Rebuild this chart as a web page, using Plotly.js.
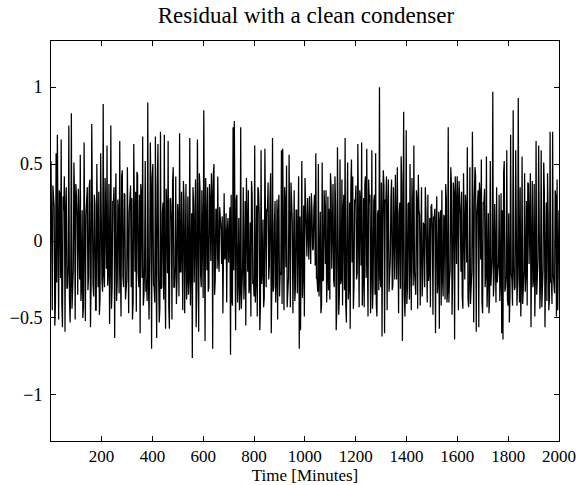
<!DOCTYPE html>
<html>
<head>
<meta charset="utf-8">
<script src="https://cdn.plot.ly/plotly-3.0.1.min.js"></script>
<style>html,body{margin:0;padding:0;background:#fff;}#chart{width:586px;height:485px;}</style>
</head>
<body>
<div id="chart"></div>
<script>
// Residual (minutes 1 .. 2000).
// residualMain: samples about every 5 minutes; residualBetween: the samples read between them.
const startMinute = 1;
const endMinute = 2000;
const residualMain = [
  0.52,-0.45,0.25,-0.55,0.57,0.69,-0.51,0.30,0.66,-0.56,
  0.20,-0.59,0.35,-0.30,0.75,-0.53,0.83,-0.25,0.51,-0.51,
  0.30,-0.35,0.15,0.56,-0.30,-0.50,0.64,-0.52,0.28,-0.32,
  0.35,-0.56,0.76,-0.28,0.30,-0.45,0.50,-0.30,-0.48,0.57,
  -0.25,0.89,-0.30,0.20,0.62,-0.20,-0.54,0.75,-0.30,0.25,
  -0.63,0.44,-0.28,0.18,0.65,-0.49,0.46,-0.30,0.30,-0.25,
  0.48,-0.47,0.25,-0.30,-0.51,0.63,-0.20,-0.46,0.43,-0.30,
  -0.60,0.30,0.68,-0.35,0.52,-0.25,0.90,-0.51,0.64,-0.70,
  0.50,-0.30,0.68,-0.63,0.63,-0.53,0.71,-0.30,0.25,0.69,
  -0.57,0.20,0.65,-0.57,0.28,-0.51,0.48,-0.30,0.42,-0.25,
  0.15,0.70,-0.20,-0.36,0.39,-0.47,0.37,-0.25,-0.35,0.67,
  -0.20,-0.76,0.25,0.35,-0.56,0.66,-0.59,0.35,-0.30,-0.30,
  0.85,-0.65,0.20,0.35,-0.30,0.25,0.44,-0.70,0.50,-0.25,
  0.20,0.42,-0.20,0.15,-0.15,-0.47,0.31,-0.10,-0.40,0.15,
  0.02,-0.74,-0.38,0.74,0.78,-0.58,0.30,-0.25,-0.45,0.74,
  -0.30,0.35,-0.25,-0.55,0.20,0.33,-0.30,-0.49,0.30,-0.25,
  0.62,-0.25,-0.49,0.33,-0.58,0.59,-0.20,-0.43,0.60,-0.30,
  0.19,-0.25,0.28,-0.60,0.67,-0.30,0.26,-0.25,-0.51,0.30,
  -0.20,0.59,0.60,-0.45,0.25,0.49,-0.30,0.56,-0.43,0.25,
  -0.47,0.33,-0.30,0.20,0.33,-0.70,-0.58,0.52,-0.20,-0.49,
  0.22,-0.10,0.15,0.29,-0.15,0.20,-0.05,0.30,0.57,-0.25,
  0.50,-0.20,-0.47,0.51,-0.25,0.20,0.33,-0.25,-0.32,-0.38,
  0.35,0.05,-0.25,0.42,-0.58,0.61,-0.48,0.53,-0.25,-0.42,
  0.30,0.67,-0.53,0.51,-0.30,-0.57,0.53,0.42,-0.28,0.25,
  -0.25,0.63,-0.43,0.25,0.64,-0.25,-0.43,0.42,0.60,-0.49,
  0.25,-0.47,0.59,-0.30,0.30,0.57,-0.49,0.20,1.00,-0.30,
  -0.62,0.46,-0.60,0.25,-0.45,0.40,-0.25,0.28,-0.32,0.35,
  -0.25,0.20,0.48,-0.47,0.25,0.55,-0.65,0.84,-0.49,0.72,
  -0.30,0.25,0.50,-0.45,0.20,0.62,-0.30,0.33,-0.44,0.20,
  -0.42,0.35,-0.25,0.10,0.35,-0.36,0.30,-0.20,-0.43,0.24,
  -0.48,0.15,-0.60,0.29,-0.25,-0.57,0.20,0.33,-0.36,0.15,
  0.37,-0.40,0.74,-0.25,0.48,-0.48,0.38,-0.64,0.25,0.42,
  -0.45,0.25,-0.20,-0.36,0.44,-0.25,0.20,0.61,-0.43,0.48,
  -0.25,0.71,-0.53,0.48,-0.59,0.25,-0.56,0.30,0.53,-0.47,
  0.25,-0.30,0.55,-0.25,-0.47,0.52,-0.20,0.97,-0.25,-0.32,
  0.35,-0.20,0.30,-0.25,-0.60,-0.64,0.52,-0.30,0.59,-0.42,
  -0.53,0.69,-0.25,0.85,-0.32,0.59,-0.42,0.93,-0.40,-0.49,
  0.55,-0.25,0.44,-0.20,-0.42,0.37,0.15,-0.56,0.39,-0.25,
  -0.49,0.65,-0.20,0.62,-0.44,0.59,-0.25,0.51,-0.56,0.25,
  0.44,-0.45,0.71,-0.25,0.71,-0.30,0.33,-0.49,-0.45,0.20
];
const residualBetween = [
  -0.18,0.36,0.22,-0.41,-0.27,-0.12,0.33,-0.24,-0.40,0.29,
  0.42,0.21,-0.31,-0.16,-0.38,-0.26,-0.44,-0.19,0.28,0.37,
  0.14,0.34,-0.25,-0.39,0.20,-0.43,-0.30,0.17,0.35,-0.23,
  0.40,-0.28,-0.15,-0.36,0.24,-0.45,-0.20,0.32,-0.38,-0.11,
  -0.33,-0.22,0.41,-0.18,-0.29,0.37,-0.13,-0.44,0.26,0.35,
  0.20,-0.39,0.27,-0.34,-0.16,0.42,-0.23,0.31,-0.38,-0.25,
  -0.43,0.19,0.36,0.28,-0.40,-0.14,0.32,0.45,-0.21,0.30,
  0.37,-0.24,-0.42,-0.17,-0.33,-0.39,-0.26,-0.12,0.35,0.41,
  -0.28,-0.40,-0.15,0.36,-0.22,-0.44,-0.31,0.19,-0.38,-0.25,
  0.34,-0.21,-0.43,0.27,0.12,0.39,-0.30,-0.17,-0.41,0.24,
  -0.36,-0.20,0.32,-0.45,0.26,0.14,-0.38,0.29,-0.23,-0.42,
  0.18,0.35,-0.27,0.40,-0.31,-0.16,0.44,-0.22,0.33,-0.37,
  -0.24,0.41,-0.19,-0.33,0.37,-0.13,0.29,0.43,-0.35,0.21,
  -0.18,-0.10,0.22,0.08,0.16,0.20,-0.12,0.18,0.06,-0.14,
  0.22,0.30,-0.42,-0.19,-0.36,0.27,-0.40,0.15,-0.33,-0.44,
  -0.17,-0.38,0.26,0.41,-0.20,-0.34,0.12,0.39,-0.28,-0.36,
  -0.40,0.23,0.35,0.18,-0.42,-0.28,0.14,-0.37,-0.30,0.21,
  0.38,-0.16,0.44,-0.25,-0.33,0.12,-0.40,0.27,0.19,-0.36,
  -0.22,-0.41,-0.29,0.35,-0.17,-0.43,-0.24,-0.31,0.38,0.13,
  0.27,-0.39,0.20,-0.34,0.42,0.16,0.30,-0.37,0.23,0.41,
  0.08,0.28,-0.12,0.14,0.31,-0.06,0.22,-0.16,-0.24,-0.33,
  -0.36,0.19,-0.42,-0.26,0.33,-0.15,-0.40,0.29,0.21,0.44,
  -0.18,0.37,-0.30,0.24,-0.43,-0.12,-0.35,-0.28,0.40,0.20,
  -0.32,-0.41,0.17,-0.38,0.25,0.34,-0.14,-0.44,0.27,0.36,
  -0.21,-0.39,0.33,-0.16,-0.42,0.28,0.37,-0.24,-0.13,0.40,
  0.30,-0.19,-0.44,0.26,-0.35,-0.41,0.18,-0.32,-0.23,0.38,
  0.15,0.36,0.27,0.42,0.20,-0.33,-0.12,0.40,-0.29,-0.22,
  0.43,-0.25,-0.37,0.18,-0.31,0.39,-0.14,-0.34,-0.26,-0.41,
  0.24,-0.38,-0.13,0.41,-0.29,-0.20,-0.35,0.27,0.43,0.17,
  0.18,-0.36,0.12,-0.30,0.20,-0.40,-0.26,0.15,0.22,0.09,
  0.16,0.21,0.10,-0.34,0.19,0.13,-0.42,-0.24,0.17,-0.38,
  0.28,-0.33,-0.40,-0.19,0.36,-0.22,0.31,0.42,-0.15,0.27,
  0.39,0.17,0.32,-0.44,-0.23,0.30,-0.14,-0.37,-0.26,-0.41,
  -0.20,-0.35,0.28,0.42,0.16,0.33,0.38,-0.12,-0.40,0.25,
  0.34,-0.22,-0.43,0.18,-0.37,-0.29,-0.11,-0.36,0.24,-0.40,
  -0.27,-0.15,-0.39,0.31,0.20,0.44,-0.33,-0.23,-0.38,0.18,
  -0.36,-0.21,-0.42,-0.17,-0.30,-0.39,-0.25,-0.13,0.35,-0.28,
  -0.41,-0.19,-0.33,0.26,0.38,-0.15,0.44,0.22,-0.30,0.37,
  -0.20,-0.35,-0.12,-0.40,-0.28,-0.43,-0.18,0.32,0.25,-0.39,
  0.16,-0.37,-0.27,-0.41,-0.22,-0.34,0.29,0.40,0.20
];
const xTicks = [200, 400, 600, 800, 1000, 1200, 1400, 1600, 1800, 2000];
const yTicks = [-1, -0.5, 0, 0.5, 1];
const yTickLabels = ["\u22121", "\u22120.5", "0", "0.5", "1"];

// interleave the two read series in time order
const residual = [];
residualMain.forEach((v, i) => {
  residual.push(v);
  if (i < residualBetween.length) residual.push(residualBetween[i]);
});
const step = (endMinute - startMinute) / (residual.length - 1);
const minutes = residual.map((_, i) => startMinute + i * step);

const font = "Liberation Serif, Times New Roman, serif";

Plotly.newPlot("chart", [{
  x: minutes,
  y: residual,
  type: "scatter",
  mode: "lines",
  line: {color: "#000", width: 1.25},
  hoverinfo: "skip"
}], {
  width: 586,
  height: 485,
  margin: {l: 51, r: 27, t: 41, b: 44},
  paper_bgcolor: "#fff",
  plot_bgcolor: "#fff",
  showlegend: false,
  font: {family: font, color: "#000", size: 17},
  title: {
    text: "Residual with a clean condenser",
    font: {family: font, size: 23, color: "#000"},
    x: 0.522, xanchor: "center",
    y: 1 - 15/485, yref: "container", yanchor: "middle"
  },
  xaxis: {
    range: [startMinute, endMinute],
    tickvals: xTicks,
    ticktext: xTicks.map(String),
    ticks: "inside", ticklen: 5, tickwidth: 1, tickcolor: "#000",
    showline: true, linecolor: "#000", linewidth: 1, mirror: "ticks",
    showgrid: false, zeroline: false,
    tickfont: {family: font, size: 17, color: "#000"},
    ticklabelstandoff: 0,
    title: {text: "Time [Minutes]", font: {family: font, size: 17, color: "#000"}, standoff: 1}
  },
  yaxis: {
    range: [-1.3, 1.3],
    tickvals: yTicks,
    ticktext: yTickLabels,
    ticks: "inside", ticklen: 5, tickwidth: 1, tickcolor: "#000",
    showline: true, linecolor: "#000", linewidth: 1, mirror: "ticks",
    showgrid: false, zeroline: false,
    tickfont: {family: font, size: 18, color: "#000"},
    ticklabelstandoff: 4
  }
}, {displayModeBar: false, staticPlot: true});
</script>
</body>
</html>
